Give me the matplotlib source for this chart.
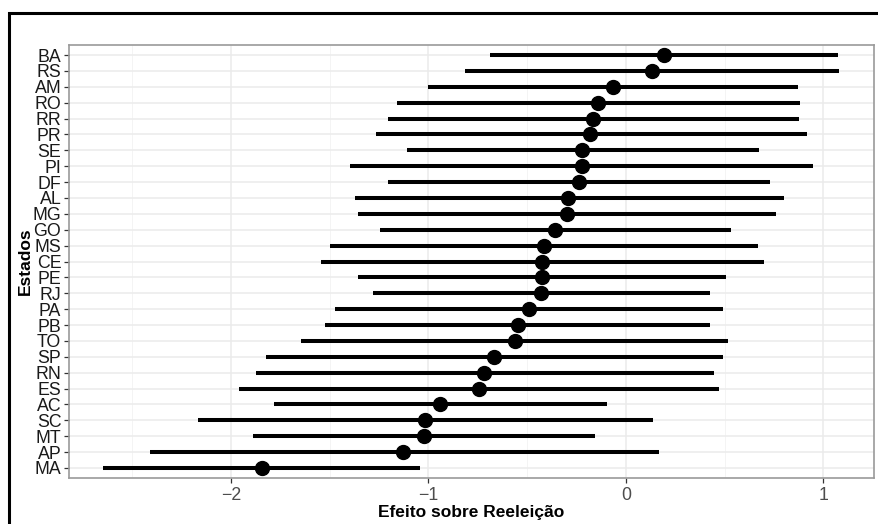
import matplotlib.pyplot as plt
from matplotlib.patches import Rectangle
from matplotlib.ticker import MultipleLocator

plt.rcParams['font.family'] = ['Liberation Sans', 'DejaVu Sans']

# estados, de cima para baixo
estados = ['BA', 'RS', 'AM', 'RO', 'RR', 'PR', 'SE', 'PI', 'DF', 'AL', 'MG', 'GO', 'MS',
           'CE', 'PE', 'RJ', 'PA', 'PB', 'TO', 'SP', 'RN', 'ES', 'AC', 'SC', 'MT', 'AP', 'MA']
efeito = [0.193, 0.13, -0.064, -0.139, -0.166, -0.18, -0.222, -0.225, -0.237, -0.293, -0.30,
          -0.359, -0.417, -0.424, -0.424, -0.432, -0.49, -0.548, -0.561, -0.668, -0.72,
          -0.746, -0.942, -1.017, -1.023, -1.127, -1.845]
inferior = [-0.686, -0.813, -1.0, -1.158, -1.203, -1.268, -1.107, -1.395, -1.203, -1.374,
            -1.356, -1.247, -1.498, -1.542, -1.356, -1.28, -1.471, -1.524, -1.646, -1.824,
            -1.874, -1.957, -1.784, -2.167, -1.888, -2.41, -2.647]
superior = [1.074, 1.08, 0.871, 0.881, 0.876, 0.915, 0.673, 0.947, 0.73, 0.80, 0.761, 0.53,
            0.671, 0.698, 0.505, 0.424, 0.493, 0.424, 0.519, 0.493, 0.444, 0.469, -0.095,
            0.136, -0.158, 0.168, -1.042]

fig = plt.figure(figsize=(8.79, 5.24), dpi=100)
ax = fig.add_axes([69/879, 1 - 478/524, 805/879, 433/524])

n = len(estados)
ypos = list(range(n - 1, -1, -1))

ax.hlines(ypos, inferior, superior, color='black', lw=2.9, zorder=3)
ax.plot(efeito, ypos, 'o', color='black', ms=10, zorder=4)

ax.set_xlim(-2.82, 1.256)
ax.set_ylim(-0.63, n - 1 + 0.63)
ax.set_yticks(ypos)
ax.set_yticklabels(estados)
ax.xaxis.set_minor_locator(MultipleLocator(0.5))
ax.set_xticks([-2, -1, 0, 1])
ax.set_xticklabels(['\u22122', '\u22121', '0', '1'])

ax.grid(which='major', color='#ebebeb', lw=1.1, zorder=0)
ax.grid(which='minor', axis='x', color='#f3f3f3', lw=0.6, zorder=0)
ax.set_axisbelow(True)
ax.tick_params(axis='both', which='major', length=3.5, color='#333333', width=0.9,
               labelsize=12.8, pad=2)
ax.tick_params(axis='x', labelcolor='#4d4d4d', pad=3)
ax.tick_params(axis='y', labelcolor='#1a1a1a')
ax.tick_params(which='minor', length=0)
for s in ax.spines.values():
    s.set_color('#9a9a9a')
    s.set_linewidth(1.2)

ax.set_xlabel('Efeito sobre Reeleição', fontsize=12.5, fontweight='bold', labelpad=1)
ax.set_ylabel('Estados', fontsize=12.5, fontweight='bold', labelpad=0)

# moldura externa
fig.patches.append(Rectangle((9/879, -0.1), 1.2, 1 - 12.5/524 + 0.1,
                             transform=fig.transFigure, fill=False,
                             edgecolor='black', lw=2.2, zorder=10))

fig.savefig('out.png', dpi=100)
